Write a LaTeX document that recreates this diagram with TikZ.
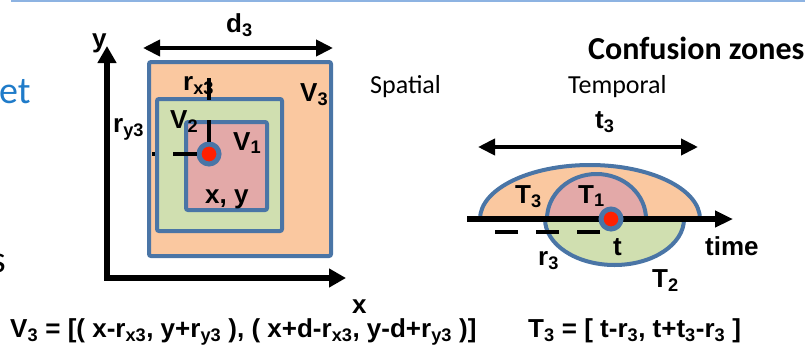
\documentclass[tikz,border=0pt]{standalone}
\usepackage{fontspec}
\setsansfont{Liberation Sans}
\newfontfamily\calibri{Carlito}
\usetikzlibrary{arrows.meta,positioning}

\definecolor{zoneline}{HTML}{4A75A6}
\definecolor{zoneorange}{HTML}{FAC8A0}
\definecolor{zonegreen}{HTML}{D0DFB0}
\definecolor{zonepink}{HTML}{E3A9A8}
\definecolor{spotred}{HTML}{FF2000}
\definecolor{titleblue}{HTML}{1F7BC9}
\definecolor{ruleblue}{HTML}{8DB3E2}

\begin{document}
\begin{tikzpicture}[
    x=1pt, y=-1pt,
    % Zones
    zone/.style={draw=zoneline, line width=4pt},
    box/.style={zone, rounded corners=2pt},
    % Axes and spans
    axis/.style={line width=5.5pt, line join=miter},
    span/.style={line width=4pt, {Triangle[length=17pt,width=16pt]}-{Triangle[length=17pt,width=16pt]}},
    guide/.style={line width=4pt},
    % Points
    spot/.style={circle, draw=zoneline, line width=5pt, fill=spotred, minimum size=20pt, inner sep=0pt},
    % Labels
    lbl/.style={font=\sffamily\bfseries\fontsize{26}{30}\selectfont, inner sep=0pt, anchor=base west},
    plain/.style={font=\calibri\fontsize{26}{30}\selectfont, inner sep=0pt, anchor=base west}
]
\useasboundingbox (0,0) rectangle (805,356);

% Slide leftovers
\draw[ruleblue, line width=1.5pt] (11,1) -- (805,1);
\node[font=\calibri\fontsize{38}{40}\selectfont, text=titleblue, inner sep=0pt, anchor=base west] (setword) at (-1,103) {et};
\node[font=\calibri\fontsize{38}{40}\selectfont, inner sep=0pt, anchor=base east] (sword) at (6,272) {s};

% Spatial zones
\draw[box, fill=zoneorange] (149,62) rectangle (331,256);
\draw[box, fill=zonegreen] (157,99) rectangle (282,231);
\draw[box, fill=zonepink] (186,122) rectangle (267,210);

% Axes
\coordinate (origin) at (107,278);
\coordinate (ytip) at (107,46);
\coordinate (xtip) at (346,278);
\draw[axis, {Triangle[length=17pt,width=18pt]}-{Triangle[length=17pt,width=18pt]}] (ytip) -- (origin) -- (xtip);
\node[lbl] (lblY) at (92,47) {y};
\node[lbl] (lblX) at (352,313) {x};

% Width d3
\coordinate (dleft) at (143,48);
\coordinate (dright) at (333,48);
\draw[span] (dleft) -- (dright);
\node[lbl] (lblD) at (226,32) {d\textsubscript{3}};

% Spatial labels
\node[lbl] (lblRx) at (183,90) {r\textsubscript{x3}};
\node[lbl] (lblRy) at (113,132) {r\textsubscript{y3}};
\node[lbl] (lblV3) at (300,101) {V\textsubscript{3}};
\node[lbl] (lblV2) at (170,128) {V\textsubscript{2}};
\node[lbl] (lblV1) at (233,150) {V\textsubscript{1}};
\node[lbl] (lblXY) at (205,203) {x, y};

% Point (x, y) and offsets
\node[spot] (xy) at (209,154) {};
\coordinate (rxtop) at (209,78);
\coordinate (ryleft) at (152,154);
\draw[guide, dash pattern=on 22pt off 20pt] (xy.north) -- (rxtop);
\draw[guide, dash pattern=on 24pt off 18pt] (xy.west) -- (ryleft);

% Headings
\node[plain] (spatial) at (370,93) {Spatial};
\node[plain] (temporal) at (568,93) {Temporal};
\node[font=\calibri\bfseries\fontsize{32}{36}\selectfont, inner sep=0pt, anchor=base west] (title) at (588,59) {Confusion zones};

% Span t3
\coordinate (tleft) at (478,147);
\coordinate (tright) at (698,147);
\draw[span] (tleft) -- (tright);
\node[lbl] (lblT) at (595,128) {t\textsubscript{3}};

% Temporal zones
\draw[zone, fill=zoneorange] (480,219) arc[start angle=180, end angle=360, x radius=110, y radius=54] -- cycle;
\draw[zone, fill=zonegreen] (545,219) arc[start angle=180, end angle=0, x radius=69.5, y radius=46] -- cycle;
\draw[zone, fill=zonepink] (547,219) arc[start angle=180, end angle=360, x radius=49.5, y radius=45] -- cycle;

% Time axis
\coordinate (tstart) at (467,219);
\coordinate (tend) at (733,219);
\draw[axis, -{Triangle[length=18pt,width=16pt]}] (tstart) -- (tend);
\node[spot] (tnow) at (611,219) {};
\coordinate (rstart) at (600,232);
\coordinate (rend) at (493,232);
\draw[guide, dash pattern=on 23pt off 18pt] (rstart) -- (rend);

% Temporal labels
\node[lbl] (lblT3) at (515,203) {T\textsubscript{3}};
\node[lbl] (lblT1) at (578,203) {T\textsubscript{1}};
\node[lbl] (lblTnow) at (613,255) {t};
\node[lbl] (lblTime) at (705,255) {time};
\node[lbl] (lblR3) at (538,265) {r\textsubscript{3}};
\node[lbl] (lblT2) at (652,287) {T\textsubscript{2}};

% Formulas
\node[lbl] (formV) at (10,337) {V\textsubscript{3} = [( x-r\textsubscript{x3}, y+r\textsubscript{y3} ), ( x+d-r\textsubscript{x3}, y-d+r\textsubscript{y3} )]};
\node[lbl] (formT) at (528,337) {T\textsubscript{3} = [ t-r\textsubscript{3}, t+t\textsubscript{3}-r\textsubscript{3} ]};

\end{tikzpicture}
\end{document}
